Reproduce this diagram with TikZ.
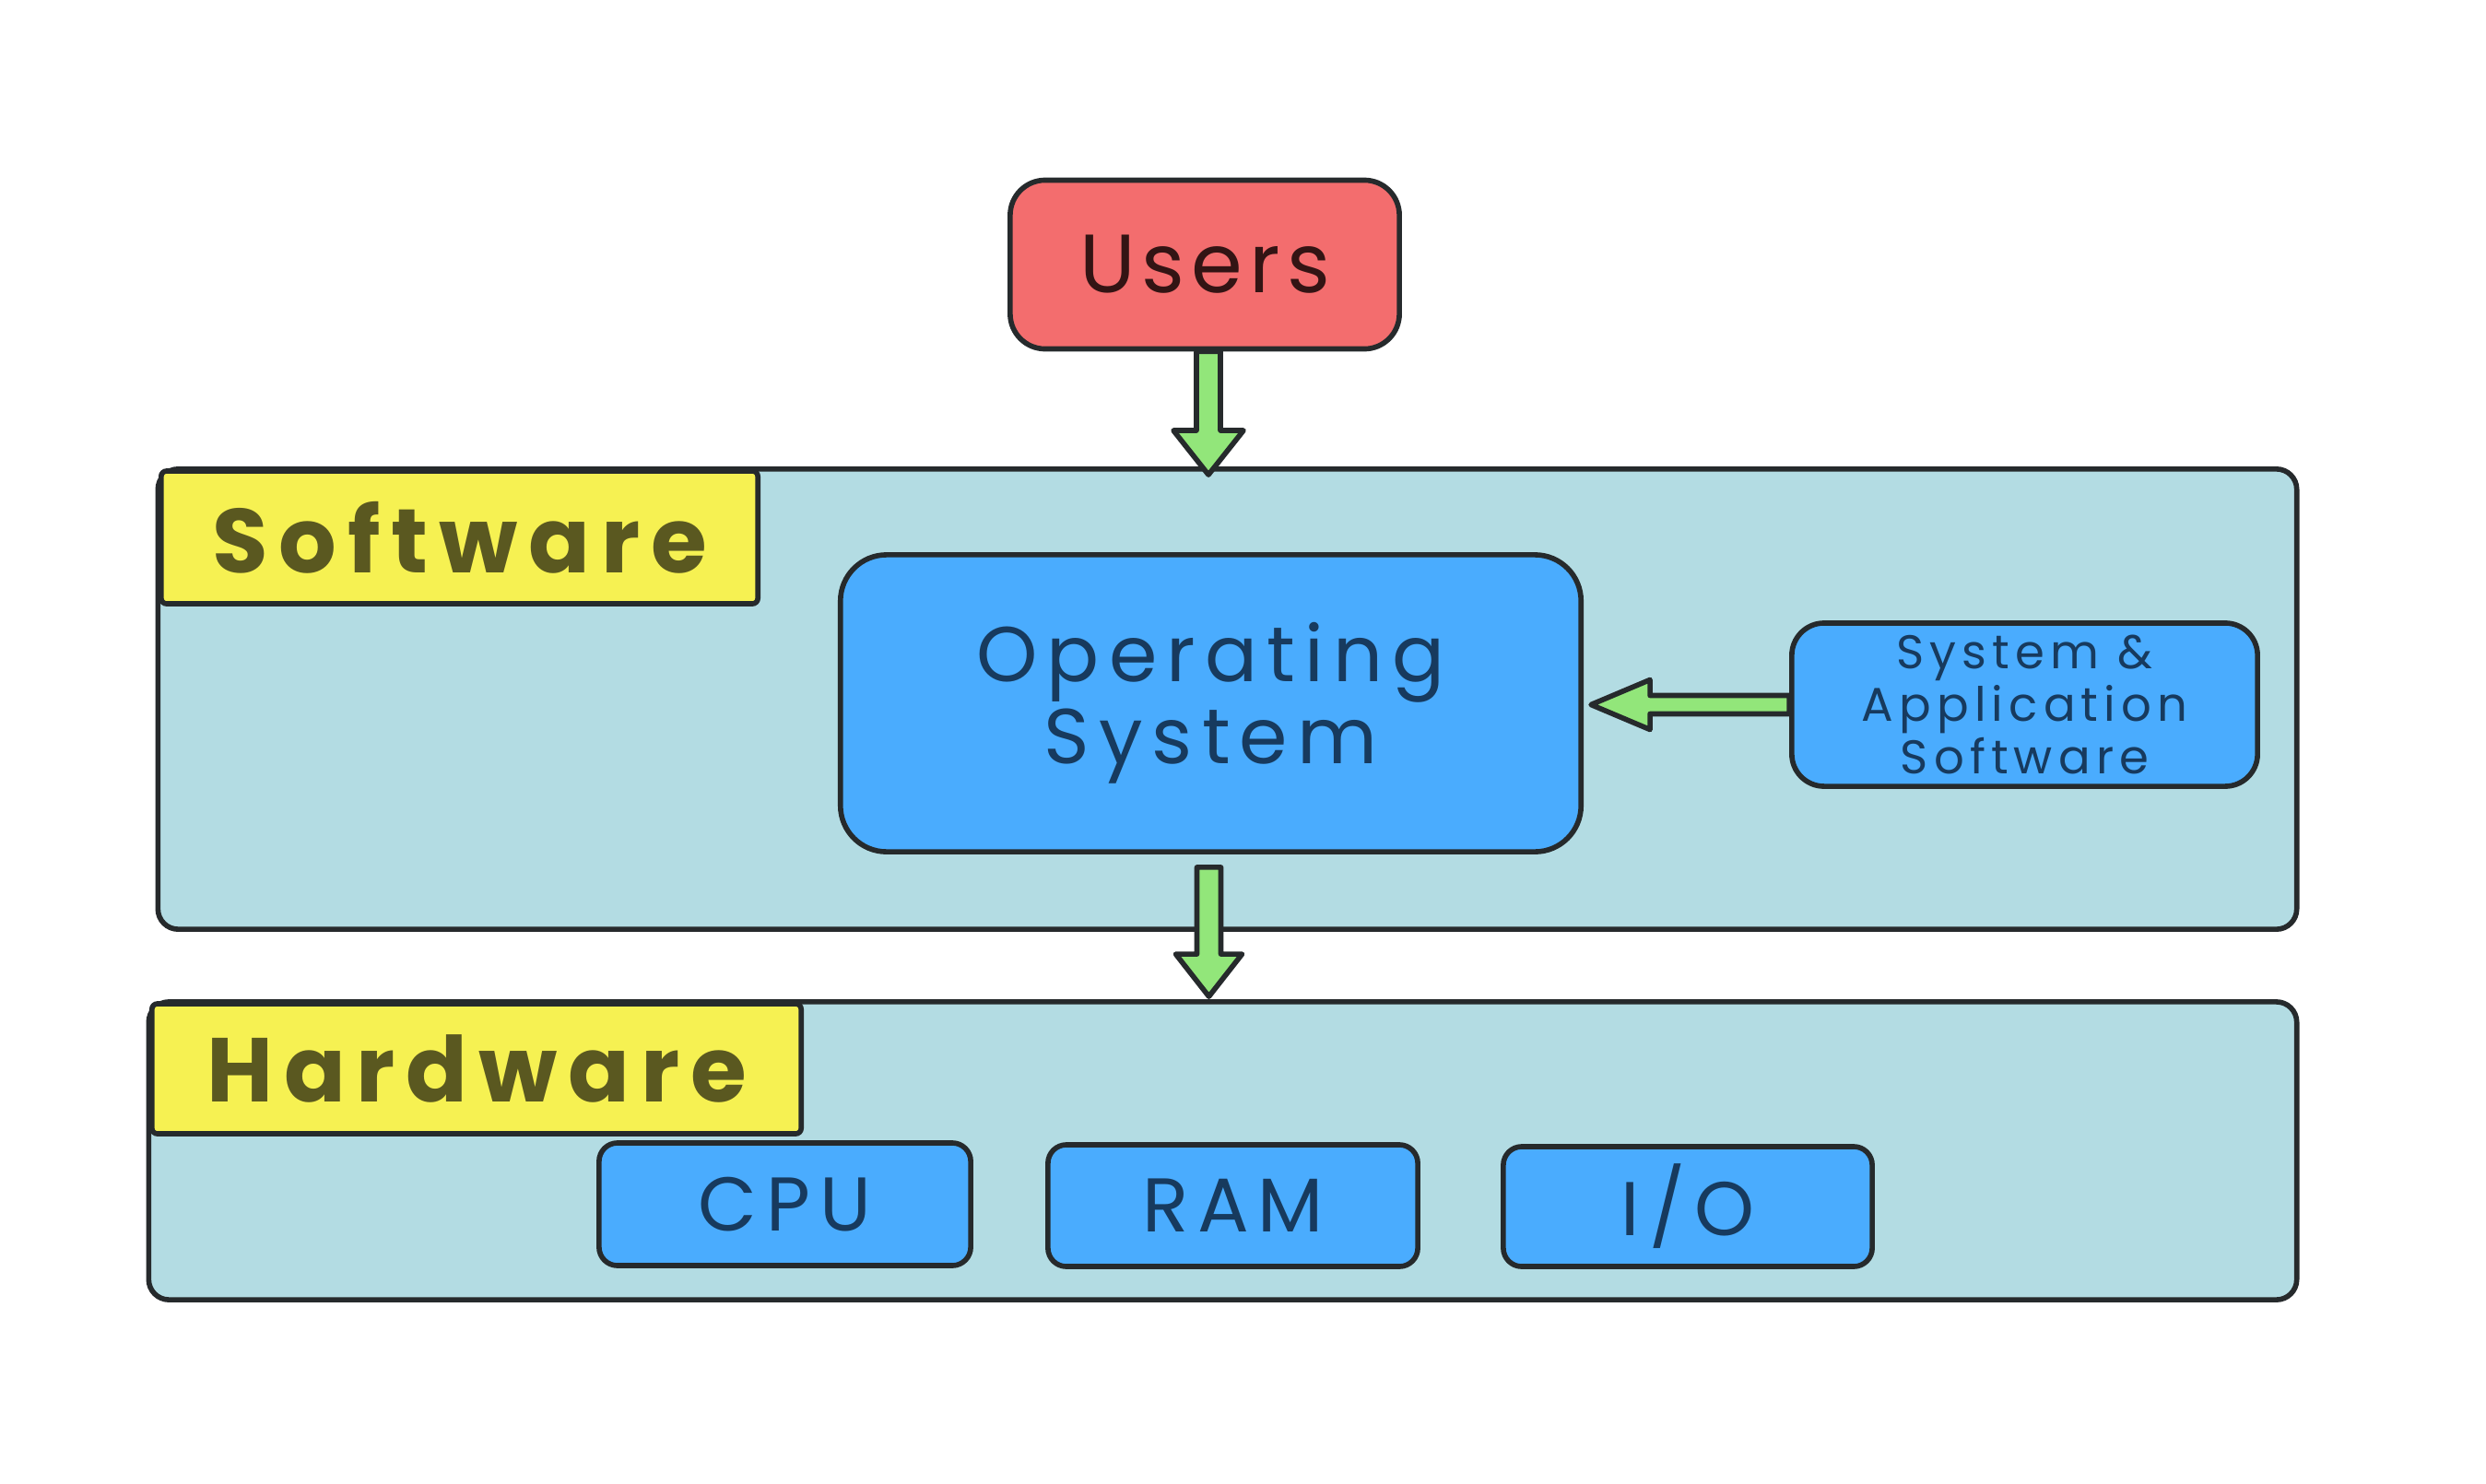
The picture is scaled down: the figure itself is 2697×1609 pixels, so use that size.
\documentclass[tikz,border=0pt]{standalone}
\usepackage{fontspec}
\setmainfont{Poppins}
\newfontfamily\hand[LetterSpace=12]{Poppins}
\newfontfamily\handtight[LetterSpace=8]{Poppins}
\usetikzlibrary{calc}
\definecolor{stroke}{HTML}{262A2C}
\definecolor{panel}{HTML}{B3DCE3}
\definecolor{ylw}{HTML}{F6F152}
\definecolor{usr}{HTML}{F36D6E}
\definecolor{blu}{HTML}{4AACFE}
\definecolor{grn}{HTML}{92E67A}
\definecolor{usrtxt}{HTML}{331414}
\definecolor{ylwtxt}{HTML}{5A5820}
\definecolor{blutxt}{HTML}{173A5E}
\tikzset{
  skbox/.style={draw=stroke, line width=1.6pt, inner sep=0pt, align=center},
  panelbox/.style={skbox, fill=panel, rounded corners=0.22cm},
  lblbox/.style={skbox, fill=ylw, rounded corners=0.06cm, text=ylwtxt,
     font=\hand\bfseries\fontsize{28}{34}\selectfont},
  bluebox/.style={skbox, fill=blu, text=blutxt},
  fatarrow/.style={draw=stroke, fill=grn, line width=1.6pt, line join=round}
}
\begin{document}
\begin{tikzpicture}[x=0.01cm, y=-0.01cm]
\useasboundingbox (0,0) rectangle (2697,1609);
% panels
\node[panelbox, minimum width=23.19cm, minimum height=4.99cm] (swpanel) at (1331.5,758.5) {};
\node[panelbox, minimum width=23.29cm, minimum height=3.23cm] (hwpanel) at (1326.5,1248.5) {};
% labels
\node[lblbox, minimum width=6.47cm, minimum height=1.44cm] (swlabel) at (498.5,583) {Software};
\node[lblbox, minimum width=7.04cm, minimum height=1.41cm] (hwlabel) at (517,1159.5) {Hardware};
% users
\node[skbox, fill=usr, rounded corners=0.38cm, text=usrtxt, minimum width=4.22cm, minimum height=1.83cm,
  font=\handtight\fontsize{25.5}{30}\selectfont] (users) at (1307,287) {Users};
% OS
\node[bluebox, rounded corners=0.5cm, minimum width=8.03cm, minimum height=3.22cm,
  font=\hand\fontsize{24}{25.3}\selectfont] (os) at (1313.5,763) {Operating\\System};
% system & application
\node[bluebox, rounded corners=0.35cm, minimum width=5.05cm, minimum height=1.77cm,
  font=\hand\fontsize{14.6}{16.2}\selectfont] (sysapp) at (2196.5,764.5) {System \&\\Application\\Software};
% hardware parts
\node[bluebox, rounded corners=0.2cm, minimum width=4.03cm, minimum height=1.33cm,
  font=\hand\fontsize{23.5}{28}\selectfont] (cpu) at (851.5,1306.5) {CPU};
\node[bluebox, rounded corners=0.2cm, minimum width=4.01cm, minimum height=1.32cm,
  font=\hand\fontsize{23.5}{28}\selectfont] (ram) at (1337.5,1308) {RAM};
\node[bluebox, rounded corners=0.2cm, minimum width=4.00cm, minimum height=1.30cm,
  font=\hand\fontsize{23.5}{28}\selectfont] (io) at (1831,1309) {I/O};
% arrows
\coordinate (s1) at ($(users.south)+(4,0)$);
\coordinate (t1) at ($(s1 |- swpanel.north)+(0,9)$);
\draw[fatarrow] ($(s1)+(-13,0)$) -- ($(t1)+(-13,-48)$) -- ($(t1)+(-38,-48)$) -- (t1)
  -- ($(t1)+(38,-48)$) -- ($(t1)+(13,-48)$) -- ($(s1)+(13,0)$) -- cycle;
\coordinate (s2) at ($(os.south)+(-2,14)$);
\coordinate (t2) at ($(s2 |- hwpanel.north)+(0,-3)$);
\draw[fatarrow] ($(s2)+(-13,0)$) -- ($(t2)+(-13,-46)$) -- ($(t2)+(-36,-46)$) -- (t2)
  -- ($(t2)+(36,-46)$) -- ($(t2)+(13,-46)$) -- ($(s2)+(13,0)$) -- cycle;
\coordinate (t3) at ($(os.east |- sysapp.west)+(8,0)$);
\draw[fatarrow] ($(sysapp.west)+(0,-10)$) -- ($(t3)+(64,-10)$) -- ($(t3)+(64,-27)$) -- (t3)
  -- ($(t3)+(64,27)$) -- ($(t3)+(64,10)$) -- ($(sysapp.west)+(0,10)$) -- cycle;
\end{tikzpicture}
\end{document}
